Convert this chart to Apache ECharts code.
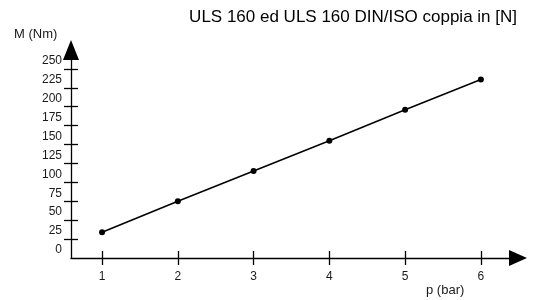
<!DOCTYPE html>
<html>
<head>
<meta charset="utf-8">
<script src="https://cdn.jsdelivr.net/npm/echarts@6/dist/echarts.min.js"></script>
<style>
html,body{margin:0;padding:0;background:#fff;}
#chart{width:533px;height:300px;}
</style>
</head>
<body>
<div id="chart"></div>
<script>
var titleText = 'ULS 160 ed ULS 160 DIN/ISO coppia in [N]';
var yName = 'M (Nm)';
var xName = 'p (bar)';
var xValues = [1, 2, 3, 4, 5, 6];
var torque = [34, 75, 115, 155, 196, 236];
var yTickValues = [25, 50, 75, 100, 125, 150, 175, 200, 225, 250];
var yLabelValues = [0, 25, 50, 75, 100, 125, 150, 175, 200, 225, 250];
var xTickValues = [1, 2, 3, 4, 5, 6];

var chart = echarts.init(document.getElementById('chart'));
var font = 'Liberation Sans, Arial, sans-serif';
var points = xValues.map(function (x, i) { return [x, torque[i]]; });

var xMin = 0.59, xMax = 6.49, yMin = 0, yMax = 275;
var gridRect = {left: 71, right: 15, top: 50, bottom: 42, containLabel: false};

function xAxisCfg(gi, inside, main) {
  return {
    type: 'value', gridIndex: gi, min: xMin, max: xMax, position: 'bottom',
    axisLine: main ? {show: true, symbol: ['none', 'triangle'], symbolSize: [16, 18], lineStyle: {color: '#000', width: 1.3}} : {show: false},
    axisTick: {show: true, inside: inside, length: 7, lineStyle: {color: '#000', width: 1.3}, customValues: xTickValues},
    axisLabel: {show: main, margin: 13, color: '#1a1a1a', fontSize: 12, fontFamily: font, customValues: xTickValues},
    splitLine: {show: false}
  };
}
function yAxisCfg(gi, inside, main) {
  return {
    type: 'value', gridIndex: gi, min: yMin, max: yMax, position: 'left',
    axisLine: main ? {show: true, symbol: ['none', 'triangle'], symbolSize: [16, 20], lineStyle: {color: '#000', width: 1.3}} : {show: false},
    axisTick: {show: true, inside: inside, length: 7, lineStyle: {color: '#000', width: 1.3}, customValues: yTickValues},
    axisLabel: {
      show: main, margin: 9, color: '#1a1a1a', fontSize: 12, fontFamily: font,
      verticalAlign: 'bottom', lineHeight: 16,
      showMinLabel: true, showMaxLabel: true, hideOverlap: false,
      customValues: yLabelValues
    },
    splitLine: {show: false}
  };
}

chart.setOption({
  animation: false,
  backgroundColor: '#fff',
  title: {
    text: titleText, right: 11, top: 4,
    textStyle: {fontSize: 17, fontWeight: 'normal', color: '#000', fontFamily: font}
  },
  grid: [gridRect, gridRect],
  xAxis: [xAxisCfg(0, false, true), xAxisCfg(1, true, false)],
  yAxis: [yAxisCfg(0, false, true), yAxisCfg(1, true, false)],
  graphic: [
    {type: 'text', left: 14, top: 28, style: {text: yName, fontSize: 13, fontFamily: font, fill: '#1a1a1a'}},
    {type: 'text', left: 426, top: 284, style: {text: xName, fontSize: 13, fontFamily: font, fill: '#1a1a1a'}}
  ],
  series: [{
    type: 'line', data: points, xAxisIndex: 0, yAxisIndex: 0,
    symbol: 'circle', symbolSize: 6,
    lineStyle: {color: '#000', width: 1.5},
    itemStyle: {color: '#000'}
  }]
});
</script>
</body>
</html>
